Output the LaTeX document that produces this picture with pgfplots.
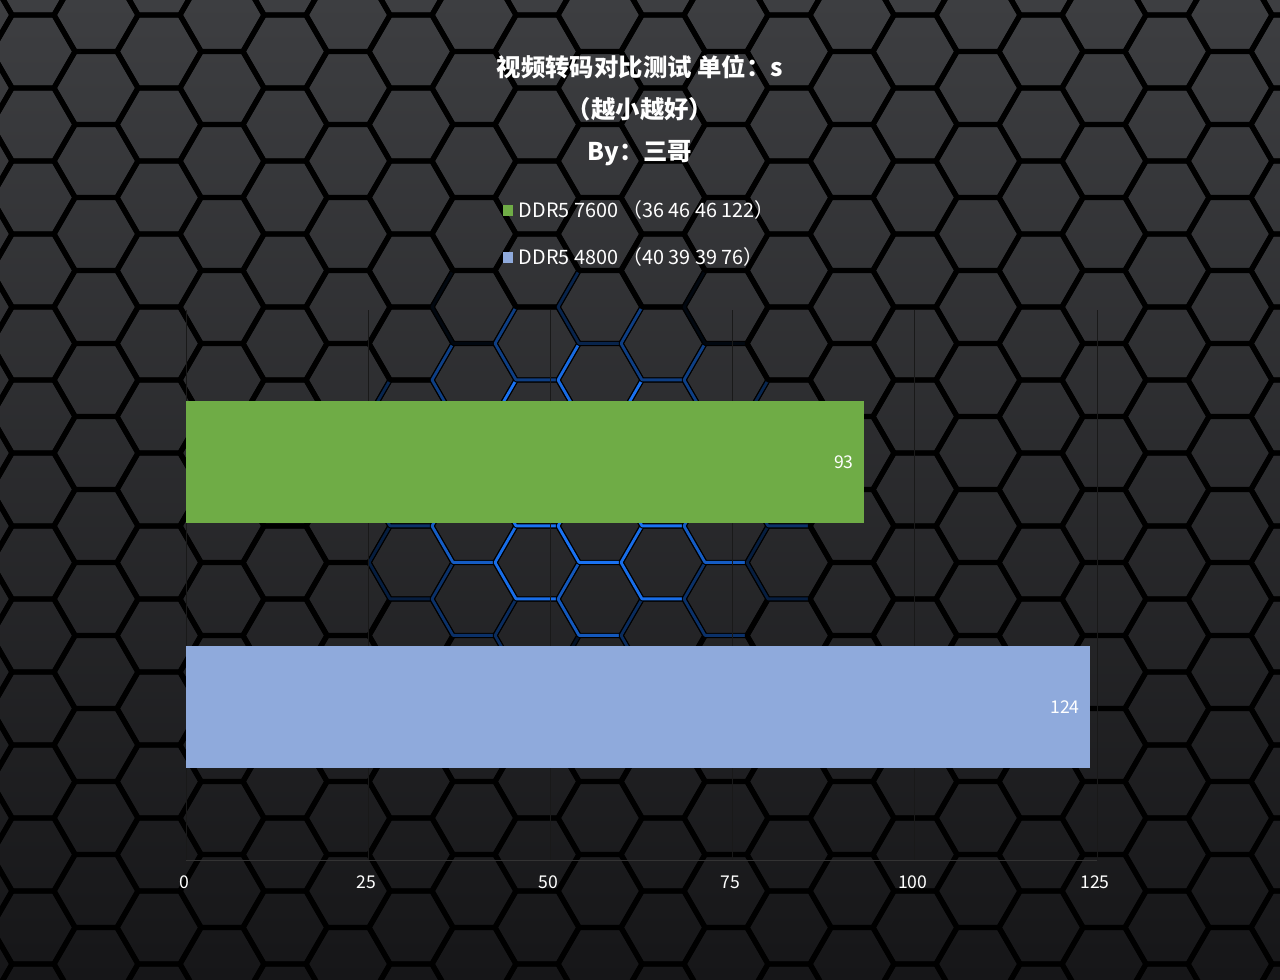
\documentclass[border=0pt]{standalone}
\usepackage{fontspec}
\setmainfont{Noto Sans CJK SC}
\usepackage{pgfplots}
\pgfplotsset{compat=1.18}
\definecolor{bargreen}{HTML}{6FAC46}
\definecolor{barblue}{HTML}{8FAADC}
\definecolor{bgtop}{HTML}{3D3E41}
\definecolor{bgbot}{HTML}{161618}
\definecolor{glow}{HTML}{1A72F2}
\begin{document}
\begin{tikzpicture}[x=0.5pt,y=0.5pt]
% background with hexagon pattern
\shade[top color=bgtop, bottom color=bgbot] (0,0) rectangle (1280,980);
\begin{scope}
  \clip (0,0) rectangle (1280,980);
  \foreach \i in {-1,...,21}{
    \foreach \j in {-1,...,14}{
      \pgfmathsetmacro\cx{\i*63+33}
      \pgfmathsetmacro\cy{\j*73+mod(\i,2)*36.5+52.5}
      \draw[black, line width=2.6pt, line join=round]
        (\cx+42,\cy) -- ++(120:42) -- ++(180:42) -- ++(240:42)
        -- ++(300:42) -- ++(0:42) -- cycle;
      \pgfmathsetmacro\dd{sqrt(((\cx-600)/250)^2+((\cy-500)/210)^2)}
      \ifdim\dd pt<1pt
        \pgfmathsetmacro\op{min(1,1.8*(1-\dd))}
        \draw[glow, opacity=\op, line width=1.4pt, line join=round]
          (\cx+42,\cy) -- ++(120:42) -- ++(180:42) -- ++(240:42)
          -- ++(300:42) -- ++(0:42) -- cycle;
      \fi
    }}
\end{scope}

\node[text=white, font=\fontsize{12.2}{21}\selectfont\bfseries, align=center, anchor=center]
  at (640,869) {视频转码对比测试 单位：s\\（越小越好）\\By：三哥};

\begin{axis}[
    at={(93pt,60pt)}, anchor=south west,
    scale only axis,
    width=455.5pt, height=275pt,
    xbar,
    bar width=61pt,
    xmin=0, xmax=125,
    ymin=-0.6245, ymax=1.6205,
    xtick={0,25,50,75,100,125},
    ytick=\empty,
    axis y line=none,
    axis x line*=bottom,
    x axis line style={black!80, -, line width=0.4pt},
    xmajorgrids=true,
    grid style={black!90, line width=0.4pt},
    major tick length=0pt,
    tick label style={text=white, font=\fontsize{8.8}{10}\selectfont},
    xticklabel style={yshift=-4.5pt, xshift=-1pt},
    /pgf/number format/assume math mode=true,
    nodes near coords,
    nodes near coords style={anchor=east, xshift=-1.5pt, text=white,
      font=\fontsize{8.8}{10}\selectfont, /pgf/number format/assume math mode=true},
    legend style={at={(axis description cs:0.347,1.207)}, anchor=north west,
      draw=none, fill=none, text=white, font=\fontsize{9.9}{11}\selectfont,
      row sep=9.6pt, inner sep=0pt},
    legend cell align=left,
    legend image code/.code={\fill[#1] (0pt,-2.6pt) rectangle (5.2pt,2.6pt);},
]
\addplot[draw=none, fill=bargreen, bar shift=0pt] coordinates {(93,1)};
\addlegendentry{\hspace{1pt}DDR5 7600 （36 46 46 122）}
\addplot[draw=none, fill=barblue, bar shift=0pt] coordinates {(124,0)};
\addlegendentry{\hspace{1pt}DDR5 4800 （40 39 39 76）}
\end{axis}
\end{tikzpicture}
\end{document}
